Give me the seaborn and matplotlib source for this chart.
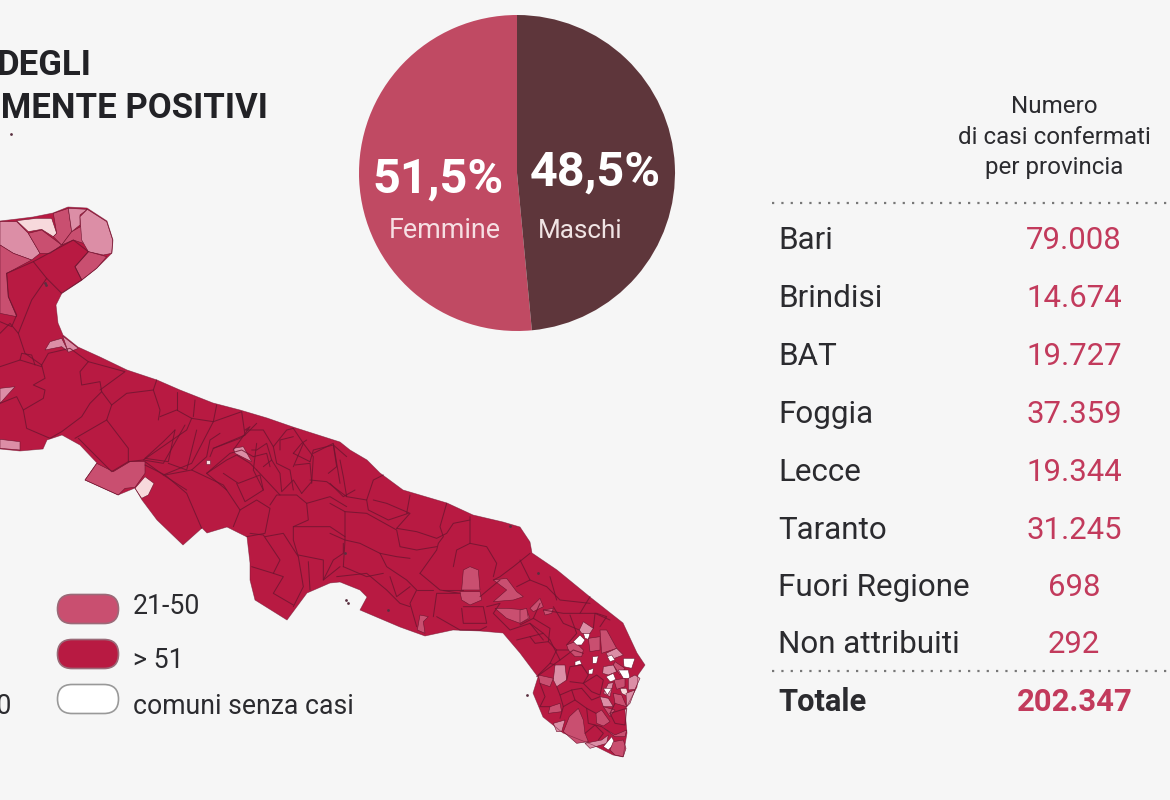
import numpy as np
import pandas as pd
import matplotlib.pyplot as plt
import seaborn as sns
from matplotlib.patches import FancyBboxPatch

# Palette
BG = '#f6f6f6'
HIGH = '#b81a42'
MID = '#c94f70'
LIGHT = '#dc8ea6'
PALE = '#f7d9dc'
NONE = '#ffffff'
EDGE = '#6e1530'
INK = '#2b2b2f'
CRIMSON = '#c23a5c'

# Table
provinces = ['Bari', 'Brindisi', 'BAT', 'Foggia', 'Lecce', 'Taranto', 'Fuori Regione', 'Non attribuiti']
cases = [79008, 14674, 19727, 37359, 19344, 31245, 698, 292]
total_label = 'Totale'
total_cases = 202347

# Pie
gender_labels = ['Femmine', 'Maschi']
gender_share = [51.5, 48.5]
gender_colors = ['#c04a63', '#5e363b']

# Map legend
legend_labels = ['21-50', '> 51', 'comuni senza casi']
legend_colors = [MID, HIGH, NONE]

# Region outline, picture pixels
coast = [(0, 221), (17, 219), (33, 217), (53, 213), (68, 207), (87, 208), (107, 221), (113, 240), (112, 253),
         (107, 258), (97, 268), (82, 280), (62, 293), (56, 305), (58, 323), (63, 335), (78, 347), (100, 357),
         (127, 370), (157, 380), (180, 390), (213, 403), (240, 410), (267, 418), (293, 427), (340, 442),
         (350, 450), (367, 460), (380, 473), (403, 490), (447, 503), (473, 515), (503, 522), (520, 527),
         (530, 542), (532, 553), (557, 570), (590, 597), (623, 623), (637, 653), (645, 665), (638, 675),
         (637, 687), (625, 710), (627, 733), (623, 757), (613, 755), (593, 745), (563, 733), (543, 717),
         (533, 693), (538, 677), (520, 653), (503, 633), (480, 631), (453, 630), (425, 636), (400, 627),
         (360, 610), (367, 597), (360, 590), (340, 582), (330, 583), (307, 593), (287, 620), (255, 600),
         (250, 580), (250, 563), (247, 537), (227, 527), (207, 533), (202, 528), (183, 545), (157, 520),
         (142, 500), (135, 488), (118, 495), (85, 480), (97, 463), (80, 445), (62, 435), (47, 440),
         (43, 449), (20, 451), (0, 449)]

# Shapes below are traced in 3x crops: each list goes with a crop origin
north_origin = (0, 190)
north_shapes = [
    (LIGHT, [(0, 95), (50, 95), (85, 130), (120, 190), (95, 210), (40, 190), (0, 165)]),
    (PALE, [(50, 92), (110, 85), (155, 85), (170, 130), (160, 140), (125, 118), (85, 125)]),
    (MID, [(85, 130), (125, 120), (185, 165), (150, 190), (120, 190)]),
    (MID, [(160, 70), (205, 55), (215, 125), (185, 165), (160, 140), (170, 130)]),
    (MID, [(215, 125), (245, 108), (250, 160), (220, 150), (185, 165)]),
    (LIGHT, [(205, 55), (262, 58), (240, 75), (240, 105), (215, 125)]),
    (LIGHT, [(262, 58), (320, 95), (338, 150), (335, 190), (310, 195), (265, 185), (245, 150), (240, 80)]),
    (MID, [(265, 185), (320, 200), (290, 235), (245, 270), (225, 230)]),
    (MID, [(0, 165), (40, 190), (95, 210), (20, 250), (25, 320), (50, 380), (0, 370)]),
    (LIGHT, [(0, 595), (45, 590), (0, 640)]),
    (LIGHT, [(135, 480), (150, 455), (185, 445), (205, 485), (185, 470)]),
    (LIGHT, [(188, 438), (235, 475), (205, 487)]),
    (LIGHT, [(0, 748), (60, 755), (60, 780), (0, 775)]),
    (LIGHT, [(700, 775), (730, 770), (755, 815), (735, 805), (705, 790)]),
    (PALE, [(617, 810), (630, 810), (630, 822), (617, 822)]),
]
north_borders = [
    [(20, 250), (100, 215), (140, 265), (95, 330), (55, 430), (75, 490), (125, 525)],
    [(100, 215), (220, 150), (265, 185), (225, 230), (245, 270), (185, 310), (140, 265)],
    [(20, 250), (25, 320), (50, 375), (35, 410), (0, 395)],
    [(125, 525), (145, 490), (210, 475), (265, 515), (240, 545), (245, 585), (300, 575), (305, 605), (270, 640),
     (245, 680), (185, 725), (150, 745), (80, 715), (70, 660), (130, 625), (135, 600), (100, 585), (135, 565),
     (125, 525)],
    [(0, 530), (60, 510), (125, 530)],
    [(0, 640), (50, 620), (70, 660)],
    [(0, 430), (30, 400), (55, 430)],
    [(60, 510), (65, 490), (95, 495), (105, 525)],
    [(265, 515), (375, 545), (300, 600)],
    [(305, 605), (335, 645), (320, 690), (225, 745)],
    [(320, 690), (385, 775), (385, 815), (335, 845), (235, 745)],
    [(335, 645), (380, 610), (460, 600), (480, 660), (475, 690)],
    [(460, 600), (470, 570)],
    [(480, 680), (530, 660), (575, 685), (560, 720), (430, 810), (385, 815)],
    [(575, 685), (640, 695), (575, 820), (490, 855), (435, 815)],
    [(430, 810), (490, 820), (555, 705)],
    [(530, 660), (530, 605)],
    [(585, 630), (580, 680)],
    [(650, 645), (640, 695)],
    [(640, 695), (725, 665), (735, 735), (640, 775), (630, 800)],
    [(640, 775), (720, 745), (735, 735), (770, 700)],
    [(620, 850), (690, 790), (725, 780), (760, 800)],
    [(700, 780), (750, 710), (735, 720), (790, 720), (820, 770), (860, 720), (880, 715)],
    [(770, 760), (760, 840), (790, 900)],
    [(820, 770), (830, 820), (870, 840), (880, 900)],
    [(880, 715), (910, 760), (880, 830)],
    [(910, 760), (940, 800), (935, 880)],
    [(940, 790), (1000, 760), (1015, 850), (1020, 880)],
    [(490, 855), (560, 900)],
    [(620, 850), (680, 900)],
    [(760, 800), (800, 790), (810, 830)],
]

middle_origin = (80, 430)
middle_shapes = [
    (MID, [(15, 150), (50, 100), (100, 125), (150, 95), (195, 95), (195, 130), (165, 172), (135, 175), (115, 195)]),
    (PALE, [(165, 175), (195, 140), (222, 160), (205, 195), (185, 205)]),
]
middle_borders = [
    [(195, 105), (255, 135), (320, 190), (365, 295)],
    [(255, 135), (335, 120), (430, 165), (480, 240), (460, 290)],
    [(195, 85), (250, 35), (285, 0)],
    [(195, 85), (265, 95), (285, 0)],
    [(265, 100), (320, 120), (350, 0)],
    [(335, 120), (380, 80), (390, 30), (420, 10)],
    [(380, 130), (440, 90), (470, 75), (510, 100), (530, 120)],
    [(430, 130), (475, 160), (540, 135), (550, 180), (495, 215), (470, 160)],
    [(480, 240), (530, 210), (570, 235), (555, 310), (500, 320)],
    [(570, 225), (590, 195), (650, 195), (680, 220), (685, 270), (640, 290), (640, 330), (655, 380), (610, 310),
     (555, 320)],
    [(510, 310), (550, 315), (600, 390), (580, 430), (515, 410)],
    [(580, 430), (610, 440), (580, 490), (640, 525)],
    [(655, 380), (670, 470), (640, 530)],
    [(685, 395), (690, 480)],
    [(655, 375), (730, 390), (730, 450), (780, 410)],
    [(640, 290), (690, 290), (750, 290), (795, 320)],
    [(680, 220), (750, 200), (800, 230)],
    [(530, 120), (600, 195)],
    [(550, 110), (575, 90), (600, 130), (605, 185), (640, 150), (665, 190)],
    [(645, 105), (690, 100), (695, 155), (665, 190)],
    [(690, 150), (740, 155), (800, 200)],
    [(640, 70), (690, 95)],
    [(690, 95), (700, 60), (760, 45), (770, 110), (745, 130)],
    [(640, 70), (665, 40), (680, 30)],
    [(575, 90), (560, 40), (530, 60), (515, 60)],
    [(600, 60), (600, 30), (640, 20)],
    [(760, 45), (800, 80)],
    [(730, 450), (760, 390), (790, 370), (790, 340)],
]

south_origin = (330, 400)
south_shapes = [
    (MID, [(400, 510), (420, 500), (445, 510), (450, 570), (395, 570)]),
    (MID, [(390, 575), (450, 575), (455, 600), (420, 615), (395, 600)]),
    (MID, [(490, 540), (530, 535), (560, 575), (580, 590), (550, 600), (490, 605), (530, 570)]),
    (MID, [(495, 625), (530, 625), (590, 630), (600, 655), (570, 670), (530, 655)]),
    (MID, [(600, 625), (630, 595), (640, 620), (610, 635)]),
    (MID, [(640, 630), (670, 625), (665, 640), (645, 645)]),
    (MID, [(262, 690), (270, 645), (295, 650), (280, 665), (285, 700)]),
]
south_borders = [
    [(30, 180), (40, 230), (50, 290), (110, 300), (130, 240), (160, 225)],
    [(0, 250), (40, 290), (75, 270)],
    [(0, 310), (45, 335), (110, 340), (200, 390), (210, 440), (260, 450), (320, 440)],
    [(45, 335), (45, 420), (40, 500)],
    [(0, 400), (45, 420), (90, 430), (150, 460), (200, 470), (240, 475)],
    [(130, 300), (170, 310), (240, 340), (200, 385)],
    [(240, 285), (230, 340)],
    [(350, 310), (330, 380), (340, 410), (325, 430), (320, 450), (270, 520)],
    [(200, 385), (260, 395), (320, 415), (350, 400), (370, 370), (420, 360)],
    [(420, 350), (420, 430), (470, 440), (500, 490), (490, 530)],
    [(420, 430), (380, 450), (370, 500)],
    [(600, 460), (550, 500), (510, 530), (490, 540)],
    [(270, 520), (330, 570), (390, 580), (320, 580), (310, 650)],
    [(40, 500), (110, 530), (160, 520)],
    [(20, 530), (110, 520), (170, 570), (210, 610), (240, 620)],
    [(150, 460), (170, 500), (230, 540), (260, 570), (240, 610), (260, 680)],
    [(310, 570), (260, 570)],
    [(320, 650), (390, 690), (450, 690), (470, 680)],
    [(340, 570), (400, 570)],
    [(400, 620), (460, 620), (470, 670), (400, 670), (395, 625)],
    [(450, 590), (510, 540)],
    [(470, 620), (510, 610), (490, 640), (540, 690), (600, 670), (640, 700)],
    [(560, 720), (640, 700), (660, 720)],
    [(570, 480), (600, 540), (560, 560)],
    [(600, 540), (650, 560), (690, 600), (780, 610)],
    [(660, 530), (680, 600)],
    [(780, 590), (750, 640), (800, 640), (830, 650), (810, 680)],
    [(640, 630), (700, 640), (750, 640)],
    [(660, 720), (690, 780), (620, 830)],
    [(690, 780), (730, 750), (760, 760)],
    [(600, 670), (640, 720)],
    [(110, 300), (115, 330), (175, 360), (235, 340)],
    [(180, 530), (200, 590), (240, 560)],
]

heel_origin = (520, 600)
heel_shapes = [
    (MID, [(140, 135), (165, 125), (190, 150), (185, 170), (165, 170), (145, 150)]),
    (LIGHT, [(178, 90), (190, 65), (220, 85), (210, 100), (185, 100)]),
    (NONE, [(160, 125), (180, 105), (195, 120), (185, 135), (170, 135)]),
    (NONE, [(190, 100), (210, 100), (205, 118), (195, 115)]),
    (MID, [(205, 115), (240, 110), (240, 150), (210, 155)]),
    (MID, [(240, 90), (260, 90), (290, 145), (245, 160)]),
    (LIGHT, [(258, 160), (290, 145), (310, 165), (270, 180)]),
    (NONE, [(262, 170), (275, 165), (285, 180), (270, 185)]),
    (NONE, [(165, 185), (180, 180), (185, 192), (165, 197)]),
    (NONE, [(218, 170), (235, 168), (230, 190), (218, 190)]),
    (NONE, [(206, 210), (220, 205), (218, 222), (206, 222)]),
    (NONE, [(310, 175), (345, 175), (335, 205), (312, 200)]),
    (MID, [(285, 185), (315, 205), (300, 225), (280, 195)]),
    (LIGHT, [(250, 200), (280, 195), (290, 215), (265, 225), (248, 220)]),
    (NONE, [(258, 230), (280, 220), (288, 240), (270, 245)]),
    (NONE, [(295, 210), (325, 210), (330, 235), (310, 235)]),
    (MID, [(282, 240), (315, 235), (315, 260), (290, 268)]),
    (LIGHT, [(325, 235), (345, 225), (360, 235), (345, 268), (325, 270)]),
    (PALE, [(300, 265), (320, 265), (325, 290), (305, 280)]),
    (LIGHT, [(265, 250), (280, 248), (270, 290), (250, 280)]),
    (NONE, [(250, 265), (275, 265), (262, 285)]),
    (MID, [(280, 280), (305, 285), (320, 320), (285, 310)]),
    (LIGHT, [(240, 290), (265, 295), (280, 320), (250, 320)]),
    (LIGHT, [(318, 280), (345, 270), (330, 310), (320, 320)]),
    (MID, [(250, 320), (285, 330), (270, 350)]),
    (MID, [(228, 340), (245, 330), (270, 365), (250, 378), (230, 370)]),
    (MID, [(148, 350), (175, 325), (190, 360), (195, 400), (205, 425), (170, 430), (130, 395)]),
    (LIGHT, [(100, 370), (135, 360), (125, 395), (110, 395)]),
    (MID, [(245, 380), (285, 405), (320, 390), (315, 410), (285, 410)]),
    (LIGHT, [(195, 430), (245, 420), (265, 405), (260, 430), (210, 445)]),
    (NONE, [(250, 440), (275, 410), (285, 430), (265, 450)]),
    (MID, [(280, 425), (310, 420), (318, 445), (310, 470), (285, 465), (270, 450)]),
    (LIGHT, [(105, 195), (135, 195), (140, 240), (110, 260), (100, 240)]),
    (MID, [(55, 225), (100, 235), (90, 260), (60, 250)]),
    (MID, [(0, 30), (20, 25), (25, 55), (0, 70)]),
    (MID, [(90, 320), (120, 310), (125, 335), (85, 340)]),
]
heel_borders = [
    [(0, 75), (40, 55), (90, 85), (85, 125), (45, 130), (30, 110)],
    [(85, 125), (110, 150), (145, 150)],
    [(110, 150), (90, 190), (55, 225)],
    [(90, 190), (105, 195)],
    [(140, 240), (150, 200), (185, 195), (205, 225), (190, 250), (150, 245)],
    [(190, 250), (230, 225), (250, 240), (240, 285), (215, 275), (190, 250)],
    [(60, 250), (75, 290), (60, 320), (90, 320)],
    [(110, 260), (120, 285), (155, 270), (185, 265)],
    [(120, 285), (130, 320), (165, 300), (155, 270)],
    [(165, 300), (200, 325), (228, 340)],
    [(185, 265), (215, 300), (240, 290)],
    [(130, 320), (120, 355)],
    [(200, 325), (205, 370), (245, 380)],
    [(195, 400), (225, 375), (250, 400), (235, 420)],
    [(285, 310), (270, 340), (320, 325), (315, 375), (285, 370), (270, 340)],
    [(150, 45), (170, 100), (140, 135)],
    [(40, 55), (60, 10)],
    [(220, 85), (225, 40), (270, 60)],
    [(100, 20), (130, 70), (178, 90)],
]

# Small dark spots and islets
islets_x = [527, 346, 348, 510, 45, 46, 345, 388, 538, 11]
islets_y = [695, 600, 603, 526, 283, 285, 553, 610, 573, 134]

sns.set_theme(style='white', rc={'figure.facecolor': BG, 'axes.facecolor': BG, 'savefig.facecolor': BG})
plt.rcParams['font.family'] = ['Roboto', 'DejaVu Sans']


def to_px(points, origin):
    # crops are scaled 3x
    return [(x / 3 + origin[0], y / 3 + origin[1]) for x, y in points]


def draw_map(ax):
    ax.fill(*zip(*coast), facecolor=HIGH, edgecolor='none', zorder=1)

    rows = []
    groups = [(north_origin, north_shapes, north_borders), (middle_origin, middle_shapes, middle_borders),
              (south_origin, south_shapes, south_borders), (heel_origin, heel_shapes, heel_borders)]
    line_id = 0
    for origin, shapes, borders in groups:
        for color, shape in shapes:
            ax.fill(*zip(*to_px(shape, origin)), facecolor=color, edgecolor=EDGE, linewidth=0.4, zorder=2)
        for line in borders:
            for x, y in to_px(line, origin):
                rows.append({'line': line_id, 'x': x, 'y': y})
            line_id += 1

    sns.lineplot(data=pd.DataFrame(rows), x='x', y='y', units='line', estimator=None, sort=False,
                 color=EDGE, linewidth=0.75, alpha=0.8, legend=False, ax=ax, zorder=3)
    ax.plot(*zip(*coast), color=EDGE, linewidth=0.5, alpha=0.6, zorder=4)
    sns.scatterplot(x=islets_x, y=islets_y, s=4, color='#5a3040', linewidth=0, legend=False, ax=ax, zorder=4)


def draw_legend(ax):
    for i, color in enumerate(legend_colors):
        top = 594 + i * 45
        edge = '#999999' if color == NONE else '#9a6a78'
        pill = FancyBboxPatch((57.5, top + 0.5), 61, 29, boxstyle='round,pad=0,rounding_size=14.5',
                              facecolor=color, edgecolor=edge, linewidth=1.2, zorder=2)
        ax.add_patch(pill)
    ax.text(133, 614, legend_labels[0], fontsize=19.2, color=INK, va='baseline', ha='left')
    ax.text(133, 668, legend_labels[1], fontsize=19.2, color=INK, va='baseline', ha='left')
    ax.text(133, 714, legend_labels[2], fontsize=19.2, color=INK, va='baseline', ha='left')
    # the left column is cut by the edge of the picture
    ax.text(12, 714, '11-20', fontsize=19.2, color=INK, va='baseline', ha='right')
    ax.text(1, 668, '1-10', fontsize=19.2, color=INK, va='baseline', ha='right')


def draw_table(ax):
    ax.text(1054, 113, 'Numero', fontsize=17.4, color=INK, ha='center', va='baseline')
    ax.text(1054, 143.5, 'di casi confermati', fontsize=17.4, color=INK, ha='center', va='baseline')
    ax.text(1054, 174, 'per provincia', fontsize=17.4, color=INK, ha='center', va='baseline')

    ax.hlines([203, 671], 772, 1170, color='#777777', linewidth=1.6, linestyle=(0, (1, 3.2)))

    row_y = [249, 307, 365, 423, 481, 539, 596, 653]
    for name, value, y in zip(provinces, cases, row_y):
        ax.text(778, y, name, fontsize=22.6, color=INK, ha='left', va='baseline')
        ax.text(1074, y, f'{value:,}'.replace(',', '.'), fontsize=22.4, color=CRIMSON, ha='center', va='baseline')

    ax.text(778, 711, total_label, fontsize=22.2, fontweight='bold', color=INK, ha='left', va='baseline')
    ax.text(1074.5, 711, f'{total_cases:,}'.replace(',', '.'), fontsize=22.3, fontweight='bold', color=CRIMSON,
            ha='center', va='baseline')


def draw_pie(fig):
    ax = fig.add_axes([359 / 1170, 1 - 331 / 800, 316 / 1170, 316 / 800])
    ax.pie(gender_share, colors=gender_colors, startangle=90, radius=1, wedgeprops={'linewidth': 0})
    ax.set_xlim(-1, 1)
    ax.set_ylim(-1, 1)
    return ax


def main():
    fig = plt.figure(figsize=(11.7, 8), dpi=100)
    ax = fig.add_axes([0, 0, 1, 1])

    draw_map(ax)
    draw_legend(ax)
    draw_table(ax)

    # Title, its start is cut off by the picture edge
    ax.text(92, 75, 'DEGLI', fontsize=25, fontweight='bold', color='#222226', ha='right', va='baseline')
    ax.text(268, 118, 'ATTUALMENTE POSITIVI', fontsize=25, fontweight='bold', color='#222226', ha='right', va='baseline')

    ax.set_xlim(0, 1170)
    ax.set_ylim(800, 0)
    ax.axis('off')

    draw_pie(fig)

    # Pie labels on top of the pie
    top = fig.add_axes([0, 0, 1, 1], facecolor='none')
    top.set_xlim(0, 1170)
    top.set_ylim(800, 0)
    top.axis('off')
    top.text(438, 193, f'{gender_share[0]:.1f}%'.replace('.', ','), fontsize=35, fontweight='bold', color='white',
             ha='center', va='baseline')
    top.text(595.5, 186, f'{gender_share[1]:.1f}%'.replace('.', ','), fontsize=35, fontweight='bold', color='white',
             ha='center', va='baseline')
    top.text(445, 238, gender_labels[0], fontsize=19.4, color='#f6dfe3', ha='center', va='baseline')
    top.text(580.5, 238, gender_labels[1], fontsize=18.8, color='#f0e4e4', ha='center', va='baseline')

    fig.savefig('out.png', dpi=100)


if __name__ == "__main__":
    main()
